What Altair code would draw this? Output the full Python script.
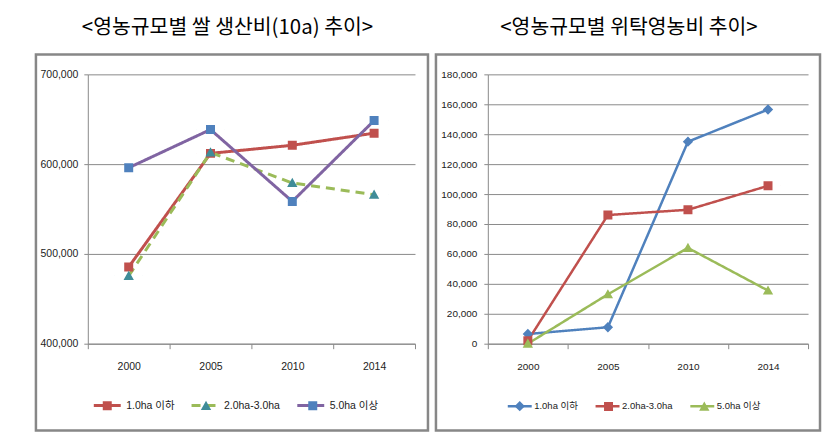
import altair as alt
import pandas as pd

years = ["2000", "2005", "2010", "2014"]
series = ["1.0ha 이하", "2.0ha-3.0ha", "5.0ha 이상"]

# left chart: 쌀 생산비(10a)
left_title = "<영농규모별 쌀 생산비(10a) 추이>"
left_s1 = [485500, 612000, 621000, 634500]
left_s2 = [475500, 613000, 579000, 566000]
left_s3 = [596000, 638500, 558500, 648500]
left_ticks = [400000, 500000, 600000, 700000]

# right chart: 위탁영농비
right_title = "<영농규모별 위탁영농비 추이>"
right_s1 = [6500, 11000, 135000, 156500]
right_s2 = [2000, 86000, 89500, 105500]
right_s3 = [0, 33000, 64000, 35500]
right_ticks = [0, 20000, 40000, 60000, 80000, 100000, 120000, 140000, 160000, 180000]

GRID = "#8a8a8a"
FRAME = "#878787"
TXT = "#222222"
FONT = "Liberation Sans, Noto Sans CJK KR"


def frame_df(vals_list):
    rows = []
    for s, vals in zip(series, vals_list):
        for y, v in zip(years, vals):
            rows.append({"year": y, "series": s, "value": v})
    return pd.DataFrame(rows)


def marker_paths(half, ext):
    sliver = f"M{-ext},-0.004h0.008v0.008h-0.008Z M{ext - 0.008},-0.004h0.008v0.008h-0.008Z "
    sq = f"M{-half},{-half}H{half}V{half}H{-half}Z"
    tri = f"M0,{-half * 1.15}L{half * 1.15},{half * 0.9}L{-half * 1.15},{half * 0.9}Z"
    dia = f"M0,{-half * 1.15}L{half * 1.15},0L0,{half * 1.15}L{-half * 1.15},0Z"
    return {"square": sliver + sq, "triangle": sliver + tri, "diamond": sliver + dia}


def panel(vals_list, title, width, frame_r, title_dx, domain, ticks, line_colors, dashes,
          marker_colors, shapes, line_w, sym_w, mark_px, axis_fs, legend_fs, legend_x,
          legend_y, label_offset, col_pad, ypad):
    df = frame_df(vals_list)
    height = 270
    half = (mark_px / 2) / (sym_w / 2)
    ext = 1 + 0.5 * (line_w / 2) / (sym_w / 2)
    paths = marker_paths(half, ext)
    shape_range = [paths[s] for s in shapes]
    point_size = (mark_px / half) ** 2

    x = alt.X("year:N", sort=years, bandPosition=0.5,
              scale=alt.Scale(type="band", paddingInner=0, paddingOuter=0),
              axis=alt.Axis(title=None, labelAngle=0, tickBand="extent", tickSize=5,
                            tickColor=GRID, domainColor=GRID, grid=False,
                            labelFont=FONT, labelFontSize=axis_fs, labelColor=TXT,
                            labelPadding=13))
    y = alt.Y("value:Q", scale=alt.Scale(domain=domain, nice=False, zero=False),
              axis=alt.Axis(title=None, values=ticks, format=",.0f", tickSize=4,
                            tickColor=GRID, domainColor=GRID, grid=True,
                            gridColor=GRID, labelFont=FONT, labelFontSize=axis_fs,
                            labelColor=TXT, labelPadding=ypad))

    common = dict(orient="none", legendX=legend_x, legendY=legend_y,
                  direction="horizontal", title=None, symbolSize=sym_w * sym_w,
                  symbolStrokeWidth=line_w,
                  labelFont=FONT, labelFontSize=legend_fs, labelColor=TXT,
                  labelOffset=label_offset, columnPadding=col_pad, padding=0)
    leg_line = alt.Legend(symbolType="stroke", **common)
    leg_mark = alt.Legend(labelOpacity=0, **common)

    frame = alt.Chart(pd.DataFrame({"a": [0]})).mark_rect(
        fill="white", fillOpacity=0, stroke=FRAME, strokeWidth=2.5
    ).encode(x=alt.value(-52), x2=alt.value(width + frame_r),
             y=alt.value(-20), y2=alt.value(357))

    lines = alt.Chart(df).mark_line(strokeWidth=line_w).encode(
        x=x, y=y,
        color=alt.Color("series:N", scale=alt.Scale(domain=series, range=line_colors),
                        legend=leg_line),
        strokeDash=alt.StrokeDash("series:N", scale=alt.Scale(domain=series, range=dashes),
                                  legend=leg_line),
    )
    points = alt.Chart(df).mark_point(filled=True, opacity=1, size=point_size,
                                      strokeWidth=0).encode(
        x=x, y=y,
        fill=alt.Fill("series:N", scale=alt.Scale(domain=series, range=marker_colors),
                      legend=leg_mark),
        shape=alt.Shape("series:N", scale=alt.Scale(domain=series, range=shape_range),
                        legend=leg_mark),
    )
    return alt.layer(frame, lines, points).resolve_scale(
        color="independent", strokeDash="independent", fill="independent",
        shape="independent"
    ).resolve_legend(
        color="independent", strokeDash="independent", fill="independent",
        shape="independent"
    ).properties(
        width=width, height=height,
        title=alt.Title(title, font="Noto Sans CJK KR", fontSize=20.5, fontWeight="normal",
                        color="black", anchor="middle", frame="group", dx=title_dx,
                        baseline="middle", offset=5),
    )


left = panel([left_s1, left_s2, left_s3], left_title, 328, 13, -24, [400000, 700000],
             left_ticks, ["#C0504D", "#9BBB59", "#8064A2"], [[1, 0], [9, 6], [1, 0]],
             ["#C0504D", "#3F8C98", "#4F81BD"], ["square", "triangle", "square"],
             3, 27, 9, 10.5, 10.5, 4.5, 317, 4, 10, 6)
right = panel([right_s1, right_s2, right_s3], right_title, 321, 12, -19, [0, 180000],
              right_ticks, ["#4F81BD", "#C0504D", "#9BBB59"], [[1, 0], [1, 0], [1, 0]],
              ["#4F81BD", "#C0504D", "#9BBB59"], ["diamond", "square", "triangle"],
              2.5, 24, 9, 10, 9.5, 18.5, 319, 1, 12, 7)

chart = alt.hconcat(left, right, spacing=73, bounds="flush").properties(
    padding={"left": 26, "top": 9, "right": 0, "bottom": 0}
).configure_view(strokeWidth=0)

chart.save("out.html", embed_options={"renderer": "svg", "actions": False})
